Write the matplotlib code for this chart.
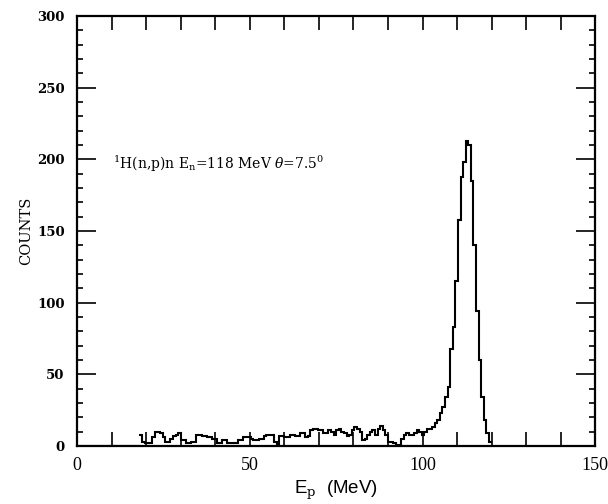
import numpy as np
import matplotlib.pyplot as plt
from matplotlib.ticker import MultipleLocator

# proton energy spectrum, 1H(n,p)n at En = 118 MeV
e_lo = 18.0      # MeV, lower edge of first bin
bin_w = 0.75     # MeV
counts = [
    8, 3, 2, 2, 2, 6, 10, 10, 9, 6,
    3, 3, 5, 7, 8, 9, 4, 4, 2, 2,
    3, 3, 8, 8, 7, 7, 6, 6, 5, 5,
    2, 2, 4, 4, 2, 2, 2, 2, 4, 4,
    6, 6, 6, 5, 4, 4, 5, 5, 7, 8,
    8, 8, 3, 1, 7, 7, 6, 6, 8, 8,
    7, 7, 9, 9, 6, 7, 11, 12, 12, 11,
    11, 9, 9, 11, 10, 8, 11, 12, 10, 9,
    7, 8, 11, 13, 12, 10, 4, 5, 8, 10,
    11, 8, 12, 14, 11, 8, 3, 3, 2, 1,
    1, 5, 8, 9, 8, 8, 9, 11, 10, 8,
    # peak region
    10, 12, 12, 13, 16, 18, 23, 27, 34, 41,
    68, 83, 115, 158, 188, 198, 213, 210, 185, 140,
    94, 60, 34, 18, 9, 3,
]
edges = e_lo + bin_w * np.arange(len(counts) + 1)

plt.rcParams['mathtext.fontset'] = 'custom'
plt.rcParams['mathtext.rm'] = 'DejaVu Serif'
plt.rcParams['mathtext.it'] = 'DejaVu Serif:italic'

fig = plt.figure(figsize=(6.08, 5.04), dpi=100)
ax = fig.add_axes([0.127, 0.115, 0.852, 0.853])

ax.stairs(counts, edges, color='black', lw=1.5, baseline=None)
ax.plot([0, e_lo], [0, 0], color='black', lw=1.5)

ax.set_xlim(0, 150)
ax.set_ylim(0, 300)

ax.xaxis.set_major_locator(MultipleLocator(50))
ax.xaxis.set_minor_locator(MultipleLocator(10))
ax.yaxis.set_major_locator(MultipleLocator(50))
ax.yaxis.set_minor_locator(MultipleLocator(10))
ax.tick_params(axis='both', which='both', direction='in',
               top=True, right=True, width=1.2, colors='black')
ax.tick_params(axis='x', which='both', length=10, pad=8)
ax.tick_params(axis='y', which='major', length=14, pad=9)
ax.tick_params(axis='y', which='minor', length=4)
for lab in ax.get_xticklabels():
    lab.set_fontfamily('Liberation Serif')
    lab.set_fontsize(13)
for lab in ax.get_yticklabels():
    lab.set_fontfamily('DejaVu Serif')
    lab.set_fontweight('bold')
    lab.set_fontsize(9.5)
for s in ax.spines.values():
    s.set_linewidth(1.6)

ax.set_ylabel('COUNTS', family='DejaVu Serif', fontsize=10.5)
ax.yaxis.set_label_coords(-0.086, 0.5)
ax.set_xlabel('E$_\\mathrm{p}$  (MeV)', family='Liberation Sans', fontsize=13.5, labelpad=3)

ax.text(10.4, 197, r'$^1$H(n,p)n E$_\mathrm{n}$=118 MeV $\theta$=7.5$^0$',
        family='DejaVu Serif', fontsize=10, va='center', ha='left')

fig.savefig('out.png', dpi=100)
